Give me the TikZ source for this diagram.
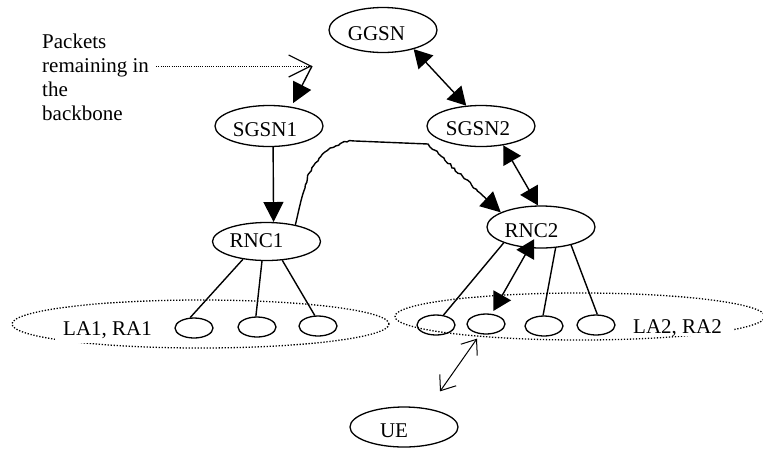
\documentclass[tikz,border=0pt]{standalone}
\usepackage{fontspec}
\setmainfont{Liberation Serif}
\usetikzlibrary{shapes.geometric,arrows.meta,decorations.pathmorphing}
\begin{document}
\begin{tikzpicture}[x=1pt,y=-1pt,
  ell/.style={draw, ellipse, line width=1.3pt, inner sep=0pt, minimum width=108pt, minimum height=41pt},
  cell/.style={draw, ellipse, line width=1.3pt, inner sep=0pt, minimum width=38pt, minimum height=20pt},
  zone/.style={draw, ellipse, line width=1.3pt, dash pattern=on 1.3pt off 1.7pt, inner sep=0pt},
  lab/.style={anchor=base, inner sep=0pt, font=\fontsize{21}{24}\selectfont},
  conn/.style={line width=1.4pt},
  thin/.style={line width=1pt},
  head/.style={-{Triangle[length=20pt,width=20pt]}},
  both/.style={{Triangle[length=18pt,width=20pt]}-{Triangle[length=18pt,width=20pt]}},
  barbs/.style={{Straight Barb[length=13pt,width=20pt,line width=1pt]}-{Straight Barb[length=13pt,width=20pt,line width=1pt]}},
  wig/.style={decoration={random steps,segment length=3pt,amplitude=1pt}},
  ]
\useasboundingbox (0,0) rectangle (763,448);
\pgfmathsetseed{7}

% zones
\node[zone, minimum width=377pt, minimum height=48pt] (la1) at (200.5,324) {};
\node[zone, minimum width=370pt, minimum height=47pt] (la2) at (580,316.5) {};

% main nodes
\node[ell, minimum height=45pt] (ggsn) at (383,30) {};
\node[ell] (sgsn1) at (269,126) {};
\node[ell] (sgsn2) at (481,126) {};
\node[ell, minimum height=38pt] (rnc1) at (266.5,241.5) {};
\node[ell, minimum height=42pt] (rnc2) at (541,227) {};
\node[ell, minimum height=40pt] (ue) at (404,427) {};

\node[lab] (tggsn) at (376.5,40) {GGSN};
\node[lab] (tsgsn1) at (265,136.5) {SGSN1};
\node[lab] (tsgsn2) at (478,135) {SGSN2};
\node[lab] (trnc1) at (256.5,247) {RNC1};
\node[lab] (trnc2) at (531.5,237) {RNC2};
\node[lab] (tue) at (394,437) {UE};

% cells
\node[cell] (c11) at (194,328) {};
\node[cell] (c12) at (257,327) {};
\node[cell] (c13) at (318,326) {};
\node[cell] (c21) at (436,325) {};
\node[cell] (c22) at (486,324) {};
\node[cell] (c23) at (544,326) {};
\node[cell] (c24) at (596,325) {};

% zone labels
\node[lab, anchor=base west, fill=white, inner xsep=8pt, inner ysep=0pt, text height=14pt, text depth=8pt] (tla1) at (55,335) {LA1, RA1};
\node[lab, anchor=base west, fill=white, inner xsep=11pt, inner ysep=0pt, text height=14pt, text depth=3pt] (tla2) at (622,333) {LA2, RA2};

% packets text
\node[anchor=north west, inner sep=0pt, align=left, font=\fontsize{21}{24}\selectfont] (packets) at (42,34) {Packets\\remaining in\\the\\backbone};
\coordinate (bend) at (312,66);
\draw[line width=0.9pt, dash pattern=on 1pt off 1.2pt, -{Straight Barb[length=22pt,width=22pt,line width=1.2pt]}]
  ([xshift=7pt,yshift=-32pt]packets.north east) -- (bend);
\draw[conn, head, shorten >=4pt] (bend) -- (sgsn1.41);

% links
\draw[conn, head] (sgsn1.281) -- (rnc1.70);
\draw[conn, both] (ggsn.328) -- (sgsn2.126);
\draw[conn, both] (sgsn2.319) -- (rnc2.98);
\draw[conn, both, shorten <=14pt, shorten >=15pt] (rnc2.center) -- (c22.center);
\draw[thin, barbs] ([xshift=-9pt,yshift=-4pt]c22.south) -- ([xshift=36pt,yshift=15pt]ue.north);

\draw[conn] (rnc1.217) -- (c11.110);
\draw[conn] (rnc1.257) -- (c12.96);
\draw[conn] (rnc1.310) -- (c13.107);
\draw[conn] (rnc2.203) -- (c21.53);
\draw[conn] (rnc2.305) -- (c23.95);
\draw[conn] (rnc2.329) -- (c24.83);

% wavy inter-RNC link
\draw[conn, head] (rnc1.30) .. controls (300,205) and (302,195) .. (305,188)
  decorate[wig] { .. controls (310,162) and (330,143) .. (353,141)}
  -- (428,144)
  decorate[wig] { -- (480,193)}
  -- (rnc2.160);
\end{tikzpicture}
\end{document}
